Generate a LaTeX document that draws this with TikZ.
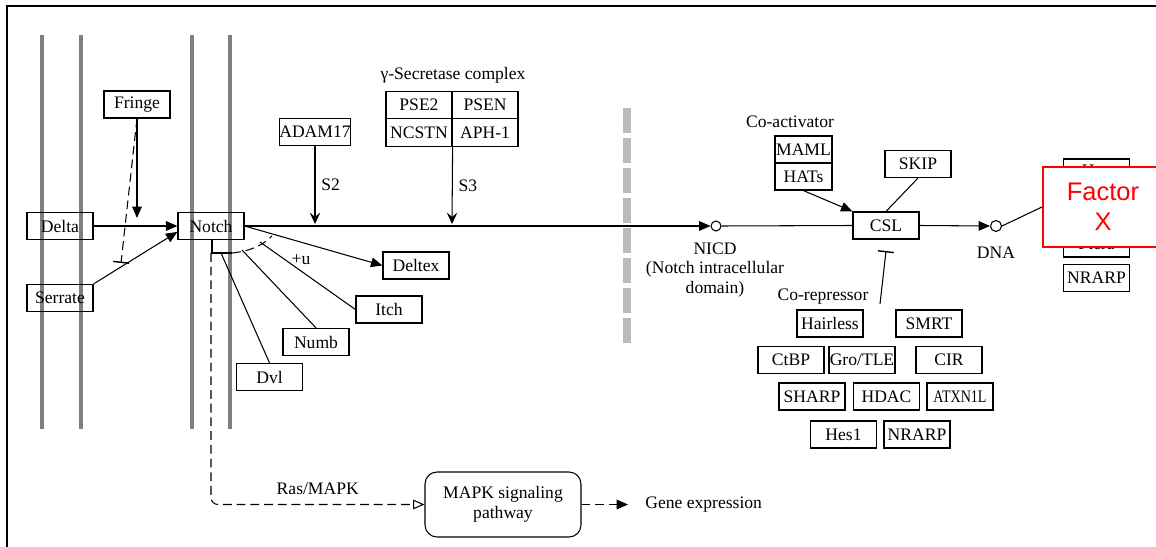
\documentclass[tikz,border=0pt]{standalone}
\usepackage{fontspec}
\setmainfont{Liberation Serif}
\newfontfamily\factorfont{Liberation Sans}
\usetikzlibrary{arrows.meta}

\begin{document}
\begin{tikzpicture}[x=0.02cm,y=-0.02cm,line width=0.6pt,
  every node/.style={font=\fontsize{10}{11.5}\selectfont},
  gene/.style={draw,line width=0.7pt,minimum width=1.32cm,minimum height=0.54cm,inner sep=0pt},
  membrane/.style={draw=black!50,line width=2.8pt},
  longdash/.style={dash pattern=on 5pt off 2.8pt},
  act/.style={-{Triangle[length=6.5pt,width=5.5pt]}},
  cut/.style={-{Stealth[length=6.5pt,width=6pt,inset=2.5pt]}},
  inh/.style={-{Bar[width=9pt,line width=0.8pt]}}]
\useasboundingbox (0,0) rectangle (1156,547);
\draw[line width=1.2pt] (7,547) -- (7,6) -- (1156,6);

\foreach \x in {42,81,192,230}
  \draw[membrane] (\x,35) -- (\x,429);
\draw[draw=black!27,line width=4.5pt,dash pattern=on 0.5cm off 0.1cm] (627,108) -- (627,345);

\node[gene] (Fringe) at (137,104.5) {Fringe};
\node[gene] (Delta) at (60,226) {Delta};
\node[gene] (Serrate) at (60,298) {Serrate};
\node[gene] (Notch) at (211,226) {Notch};
\node[gene] (ADAM) at (315,132) {ADAM17};

\node at (453,75) {γ-Secretase complex};
\node[gene,minimum height=0.55cm] (PSE) at (419,105) {PSE2};
\node[gene,minimum height=0.55cm] (PSEN) at (485,105) {PSEN};
\node[gene,minimum height=0.55cm] (NCSTN) at (419,132.5) {NCSTN};
\node[gene,minimum height=0.55cm] (APH) at (485,132.5) {APH-1};

\node[gene] (Deltex) at (416,265.5) {Deltex};
\node[gene] (Itch) at (389,309.5) {Itch};
\node[gene] (Numb) at (316,342) {Numb};
\node[gene] (Dvl) at (269.5,377) {Dvl};

\coordinate (F) at (137,218);
\coordinate (G) at (121,263);
\coordinate (S2) at (315,224);
\coordinate (S3) at (452,224);
\coordinate (B) at (211,253);
\coordinate (U1) at (221,253);
\coordinate (U2) at (242,250);
\coordinate (U3) at (260,242);

\draw[act] (Fringe.south) -- (F);
\draw[longdash,inh] (Fringe.south) -- (G);
\draw[act] (Delta) -- (Notch);
\draw[act] (Serrate.north east) -- (Notch.190);

\draw[cut] (ADAM.south) -- (S2) node[pos=0.5,right] {S2};
\draw[cut] (NCSTN.south east) -- (S3) node[pos=0.5,right] {S3};

\draw (212,239) -- (212,253) -- (232,253);
\draw[longdash] (232,253) .. controls (250,251) and (262,246) .. (272,236);
\draw[act] (Notch.east) -- (Deltex.west);
\draw (U3) -- (Itch.west);
\draw (U2) -- (Numb.north);
\draw (U1) -- (Dvl.north);
\node at (301,260) {+u};

\node[draw,rounded corners=0.24cm,minimum width=3.12cm,minimum height=1.3cm,align=center,inner sep=0pt] (MAPK) at (503,504.5) {MAPK signaling\\pathway};
\coordinate (E) at (628,504.5);
\draw[longdash,rounded corners=4pt,-{Triangle[open,length=6.5pt,width=5.5pt]}] (B) |- (MAPK.west) node[pos=0.75,above=2pt] {Ras/MAPK};
\draw[longdash,act] (MAPK.east) -- (E);
\node[anchor=west] (Gene) at (639,505) {Gene expression};

\node[circle,draw,minimum size=0.2cm,inner sep=0pt] (NICD) at (716,226) {};
\draw[act] (Notch.east) -- (NICD.west);
\node[align=center,font=\fontsize{10}{11}\selectfont] at (715,270) {NICD\\(Notch intracellular\\domain)};

\node at (790,122) {Co-activator};
\node[gene,minimum width=1.14cm] (MAML) at (803.5,149.5) {MAML};
\node[gene,minimum width=1.14cm] (HATs) at (803.5,176.5) {HATs};
\node[gene] (CSL) at (886,225.5) {CSL};
\node[gene] (SKIP) at (918,164) {SKIP};
\draw (NICD.east) -- (CSL.west);
\draw[act] (HATs.south) -- (CSL.north west);
\draw (SKIP.south) -- (CSL.north);

\node[circle,draw,minimum size=0.22cm,inner sep=0pt] (DNA) at (996,226) {};
\draw[act] (CSL.east) -- (DNA.west);
\node at (996,253) {DNA};

\node at (823,297) {Co-repressor};
\coordinate (R0) at (880,304);
\coordinate (R1) at (886,251);
\draw[inh] (R0) -- (R1);
\node[gene] (Hairless) at (830,323.5) {Hairless};
\node[gene] (SMRT) at (929,323.5) {SMRT};
\node[gene] (CtBP) at (791,360) {CtBP};
\node[gene] (Gro) at (862,360) {Gro/TLE};
\node[gene] (CIR) at (949,360) {CIR};
\node[gene] (SHARP) at (812,396.5) {SHARP};
\node[gene] (HDAC) at (886.5,396.5) {HDAC};
\node[gene] (ATXN) at (960,396.5) {\scalebox{0.8}[1]{ATXN1L}};
\node[gene] (Hes) at (843.5,434.5) {Hes1};
\node[gene] (NRARPa) at (917,434.5) {NRARP};

\node[gene] (Hey) at (1096.5,172.5) {Hey};
\node[gene] (Ptcra) at (1096.5,243.5) {Ptcra};
\node[gene] (NRARPb) at (1096.5,278) {NRARP};
\node[draw=red,fill=white,line width=1.2pt,minimum width=2.4cm,minimum height=1.6cm,align=center,inner sep=0pt,text=red,font=\factorfont\fontsize{14.5}{17}\selectfont] (FactorX) at (1103,207) {Factor\\X};
\draw (DNA.east) -- (FactorX.west);
\end{tikzpicture}
\end{document}
